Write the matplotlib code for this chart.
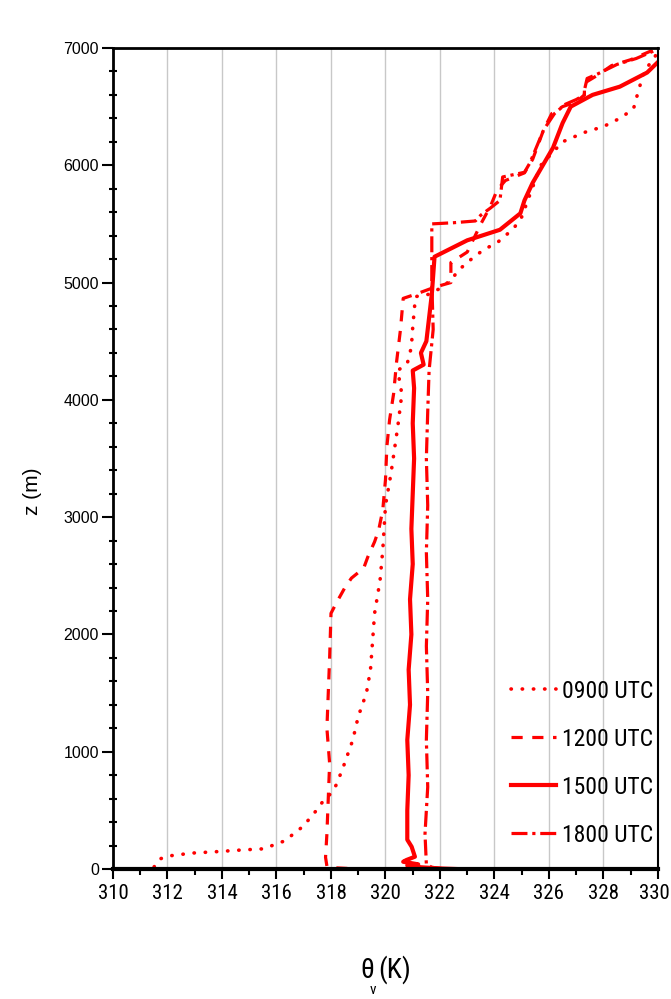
import matplotlib
matplotlib.use("Agg")
import matplotlib.pyplot as plt
from matplotlib import font_manager
from matplotlib.font_manager import FontProperties
from matplotlib.ticker import MultipleLocator, FuncFormatter


def find_narrow():
    # look for a condensed sans face; fall back to Liberation Sans
    fonts = font_manager.fontManager.ttflist
    prefs = ["Liberation Sans Narrow", "Arial Narrow", "Roboto Condensed",
             "Open Sans Condensed", "Noto Sans Condensed", "DejaVu Sans Condensed"]
    for p in prefs:
        for f in fonts:
            if f.name == p and f.weight in (400, "normal", "regular") and f.style == "normal":
                return f.fname
    for f in fonts:
        st = str(f.stretch).lower()
        if "condensed" in st and "extra" not in st and "ultra" not in st \
                and f.style == "normal" and f.weight in (400, "normal", "regular"):
            if f.name in ("Liberation Sans", "Roboto", "Noto Sans", "Open Sans",
                          "DejaVu Sans", "Lato", "Inter"):
                return f.fname
    return None


narrow_file = find_narrow()


def narrow_fp(size):
    if narrow_file:
        return FontProperties(fname=narrow_file, size=size)
    return FontProperties(family="Liberation Sans", size=size * 0.85)


plain = "Liberation Sans"

# virtual potential temperature profiles (K) against height (m)
theta_0900 = [310.7, 311.1, 311.5, 311.7, 312.1, 312.9, 313.8, 314.7, 315.5, 315.9,
              316.3, 316.9, 317.3, 317.7, 318.0, 318.2, 318.45, 318.8, 319.0, 319.3,
              319.45, 319.6, 319.8, 319.9, 320.0, 320.2, 320.45, 320.6, 320.45, 320.8,
              320.95, 321.0, 321.1, 321.6, 322.0, 322.4, 322.7, 323.1, 323.6, 324.1,
              324.7, 325.0, 325.3, 325.7, 326.5, 327.3, 328.0, 328.6, 329.1, 329.3,
              329.5, 329.9, 330.0]
z_0900 = [0, 0, 15, 85, 113, 136, 148, 162, 172, 205,
          240, 350, 450, 575, 645, 720, 870, 1100, 1300, 1500,
          1700, 2180, 2460, 2720, 3100, 3370, 3770, 4050, 4250, 4310,
          4450, 4620, 4880, 4900, 4950, 5020, 5110, 5190, 5280, 5340,
          5460, 5560, 5750, 6000, 6200, 6280, 6330, 6400, 6480, 6650,
          6800, 6930, 6980]

theta_1200 = [318.6, 318.2, 317.85, 317.8, 317.85, 317.9, 317.95, 317.85, 317.9, 317.95,
              318.0, 318.2, 318.5, 318.75, 319.2, 319.35, 319.6, 319.75, 319.9, 320.0,
              320.05, 320.15, 320.3, 320.4, 320.55, 320.65, 321.1, 321.8, 322.4, 322.4,
              323.0, 323.5, 323.85, 324.1, 324.4, 325.1, 325.4, 325.8, 326.1, 326.5,
              327.0, 327.3, 327.3, 327.8, 328.3, 329.0, 329.6, 330.0]
z_1200 = [5, 10, 25, 100, 300, 600, 900, 1200, 1500, 1800,
          2180, 2270, 2395, 2480, 2565, 2660, 2790, 2890, 3060, 3320,
          3600, 3830, 4055, 4310, 4600, 4865, 4900, 4960, 5000, 5170,
          5260, 5500, 5650, 5790, 5870, 5935, 6050, 6300, 6440, 6500,
          6540, 6600, 6700, 6770, 6850, 6900, 6960, 7000]

theta_1500 = [322.6, 322.0, 321.3, 320.8, 321.2, 320.65, 320.77, 321.08, 320.96, 320.8,
              320.8, 320.85, 320.8, 320.9, 320.85, 320.95, 320.9, 321.0, 320.95, 321.0,
              321.05, 321.0, 321.05, 321.0, 321.4, 321.3, 321.5, 321.6, 321.7, 321.8,
              323.0, 324.2, 324.95, 325.1, 325.4, 326.15, 326.5, 326.8, 327.6, 328.6,
              329.1, 329.6, 330.0]
z_1500 = [0, 5, 15, 30, 40, 62, 77, 105, 190, 250,
          500, 800, 1100, 1400, 1700, 2000, 2300, 2600, 2900, 3200,
          3500, 3800, 4100, 4250, 4300, 4400, 4500, 4700, 4900, 5220,
          5360, 5450, 5590, 5700, 5850, 6150, 6360, 6500, 6600, 6670,
          6730, 6790, 6880]

theta_1800 = [322.2, 321.7, 321.5, 321.45, 321.55, 321.5, 321.55, 321.5, 321.55, 321.5,
              321.55, 321.5, 321.55, 321.6, 321.75, 321.7, 321.7, 322.5, 323.3, 323.5,
              323.85, 324.2, 324.3, 325.1, 325.3, 325.8, 326.2, 326.6, 327.0, 327.3,
              327.3, 327.4, 327.8, 328.5, 329.2, 329.7, 330.0]
z_1800 = [0, 15, 40, 300, 700, 1100, 1500, 1900, 2300, 2700,
          3100, 3500, 3900, 4250, 4600, 5000, 5500, 5510, 5525, 5575,
          5635, 5700, 5900, 5940, 6020, 6300, 6440, 6520, 6560, 6600,
          6640, 6740, 6780, 6860, 6910, 6960, 6990]

labels = ["0900 UTC", "1200 UTC", "1500 UTC", "1800 UTC"]
x_min, x_max = 310, 330

fig = plt.figure(figsize=(6.71, 9.99), dpi=100)
ax = fig.add_axes([0.1684, 0.1301, 0.8122, 0.8219])

red = "#ff0000"
ax.plot(theta_0900, z_0900, color=red, lw=2.6, linestyle=(0, (0.1, 3.0)),
        dash_capstyle="round", label=labels[0])
ax.plot(theta_1200, z_1200, color=red, lw=2.3, linestyle=(0, (3.5, 3.0)), label=labels[1])
ax.plot(theta_1500, z_1500, color=red, lw=3.0, linestyle="-", label=labels[2])
ax.plot(theta_1800, z_1800, color=red, lw=2.3, linestyle=(0, (5, 1.5, 1, 1.5)), label=labels[3])

ax.set_xlim(x_min, x_max)
ax.set_ylim(0, 7000)

ax.xaxis.set_major_locator(MultipleLocator(2))
ax.xaxis.set_minor_locator(MultipleLocator(1))
ax.yaxis.set_major_locator(MultipleLocator(1000))
ax.yaxis.set_minor_locator(MultipleLocator(200))

# last x label is drawn separately, pulled in a little from the edge
ax.xaxis.set_major_formatter(FuncFormatter(lambda v, p: "" if v >= x_max else f"{v:.0f}"))

ax.grid(axis="x", which="major", color="#c8c8c8", lw=1.0)
ax.set_axisbelow(True)

for side, w in [("left", 2.0), ("bottom", 3.0), ("top", 2.0), ("right", 1.5)]:
    ax.spines[side].set_linewidth(w)
    ax.spines[side].set_color("black")

ax.tick_params(axis="x", which="major", direction="out", length=7, width=1.5, pad=4)
ax.tick_params(axis="x", which="minor", direction="out", length=4, width=1.5)
ax.tick_params(axis="y", which="major", direction="out", length=8, width=1.5,
               labelsize=11.5, pad=2)
ax.tick_params(axis="y", which="minor", direction="inout", length=6, width=1.5)

for t in ax.get_xticklabels():
    t.set_fontproperties(narrow_fp(15))
for t in ax.get_yticklabels():
    t.set_fontfamily(plain)

ax.annotate(f"{x_max}", xy=(x_max, 0), xycoords=("data", "axes fraction"),
            xytext=(-2.5, -11), textcoords="offset points", ha="center", va="top",
            fontproperties=narrow_fp(15))

ax.set_ylabel("z (m)", fontsize=15, family=plain)
ax.yaxis.set_label_coords(-0.13, 0.46)

# x axis label: theta with subscript v
fig.text(367 / 671, 1 - 970 / 999, "\u03b8", fontproperties=narrow_fp(20),
         ha="center", va="center")
fig.text(373 / 671, 1 - 990 / 999, "v", fontproperties=narrow_fp(11),
         ha="center", va="center")
fig.text(395 / 671, 1 - 970 / 999, "(K)", fontproperties=narrow_fp(20),
         ha="center", va="center")

leg = ax.legend(loc="lower right", bbox_to_anchor=(1.033, 0.0), frameon=False,
                prop=narrow_fp(17), handlelength=1.9,
                handletextpad=0.25, labelspacing=1.06, borderaxespad=0.55)

fig.savefig("out.png", dpi=100)
